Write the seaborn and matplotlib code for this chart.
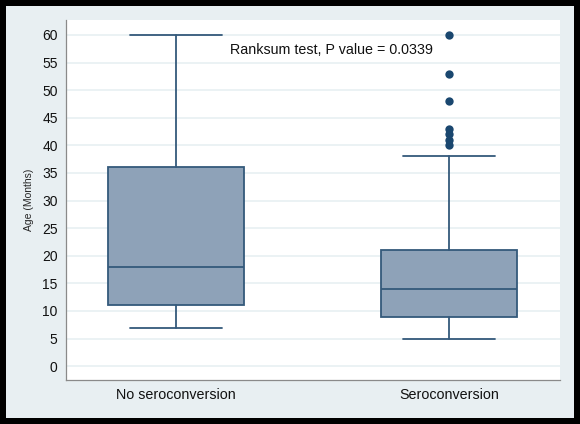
import matplotlib
matplotlib.use("Agg")
import matplotlib.pyplot as plt
import matplotlib.patches as mpatches
import seaborn as sns

# summary values
groups = ["No seroconversion", "Seroconversion"]
whisker_low = [7, 5]
q1 = [11, 9]
medians = [18, 14]
q3 = [36, 21]
whisker_high = [60, 38]
outlier_group = ["Seroconversion"] * 7
outlier_age = [40, 41, 42, 43, 48, 53, 60]
yticks = list(range(0, 61, 5))
note = "Ranksum test, P value = 0.0339"

sns.set_style("white")
plt.rcParams['font.family'] = ['Liberation Sans', 'DejaVu Sans']

navy = "#1a476f"
edge = "#34597b"
fill = "#8ea2b8"
grid = "#e8f0f2"

fig = plt.figure(figsize=(5.8, 4.24), dpi=100, facecolor="black")
fig.patches.append(mpatches.Rectangle((6 / 580, 6 / 424), 568 / 580, 412 / 424,
                                      transform=fig.transFigure, facecolor="#e8eff2",
                                      edgecolor="none", zorder=-10))
ax = fig.add_axes([66 / 580, 44 / 424, 494 / 580, 360 / 424])
ax.set_facecolor("white")

stats = []
for i, g in enumerate(groups):
    stats.append(dict(label=g, whislo=whisker_low[i], q1=q1[i], med=medians[i],
                      q3=q3[i], whishi=whisker_high[i], fliers=[]))

ax.bxp(stats, positions=[0, 1], widths=0.5, capwidths=0.337, patch_artist=True,
       showfliers=False,
       boxprops=dict(facecolor=fill, edgecolor=edge, linewidth=1.3),
       medianprops=dict(color=edge, linewidth=1.3),
       whiskerprops=dict(color=edge, linewidth=1.3),
       capprops=dict(color=edge, linewidth=1.3))

sns.stripplot(x=outlier_group, y=outlier_age, order=groups, jitter=False,
              color=navy, size=6, linewidth=0, ax=ax, zorder=3)

ax.set_xlim(-0.403, 1.407)
ax.set_ylim(-2.5, 62.7)
ax.set_yticks(yticks)
ax.set_xticks([0, 1])
ax.set_xticklabels(groups, fontsize=10.3, color="#111111")
ax.tick_params(axis="x", length=0, pad=6)
ax.tick_params(axis="y", length=4, width=0.8, color="#8a8a8a", labelsize=10,
               labelcolor="#111111", pad=2)
ax.yaxis.grid(True, color=grid, linewidth=1.2)
ax.set_axisbelow(True)
for s in ["top", "right"]:
    ax.spines[s].set_visible(False)
for s in ["left", "bottom"]:
    ax.spines[s].set_color("#8a8a8a")
    ax.spines[s].set_linewidth(0.9)

ax.set_ylabel("Age (Months)", fontsize=7.5, labelpad=6)
ax.text(0.198, 57.2, note, fontsize=10.3, va="center", ha="left", color="#111111")

fig.savefig("out.png", dpi=100, facecolor="black")
